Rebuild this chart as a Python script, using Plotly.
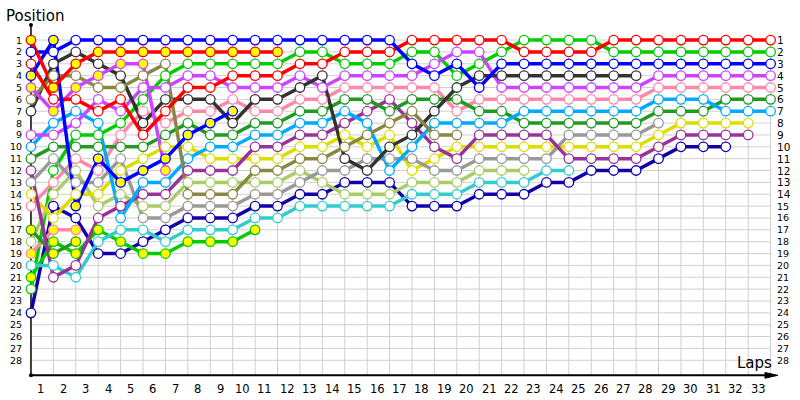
import plotly.graph_objects as go

# ---------------- data ----------------
laps = list(range(0, 34))          # lap 0 = grid
lap_labels = [str(i) for i in range(1, 34)]
position_labels = [str(i) for i in range(1, 29)]

pos_red = [3, 6, 6, 7, 6, 9, 7, 5, 5, 4, 4, 4, 3, 3, 2, 2, 2, 1, 1, 1, 1, 1, 2, 2, 2, 2, 1, 1, 1, 1, 1, 1, 1, 1]
pos_red_y = [1, 5, 3, 2, 2, 2, 2, 2, 2, 2, 2, 2]
pos_blue = [2, 2, 1, 1, 1, 1, 1, 1, 1, 1, 1, 1, 1, 1, 1, 1, 1, 3, 4, 3, 5, 3, 3, 3, 3, 3, 3, 3, 3, 3, 3, 3, 3, 3]
pos_blue_y = [4, 1, 15, 11, 13, 12, 11, 9, 8, 7]
pos_green = [22, 12, 9, 9, 8, 6, 4, 3, 3, 3, 3, 3, 2, 2, 3, 3, 3, 2, 2, 4, 3, 2, 1, 1, 1, 1, 2, 2, 2, 2, 2, 2, 2, 2]
pos_green_y = [21, 18, 19, 17, 18, 19, 19, 18, 18, 18, 17]
pos_violet = [9, 9, 8, 6, 7, 5, 5, 4, 4, 5, 5, 5, 4, 5, 4, 4, 4, 4, 3, 2, 2, 5, 5, 5, 5, 5, 5, 5, 4, 4, 4, 4, 4, 4]
pos_violet_y = [5, 7, 5, 4, 3, 3, 12]
pos_pink = [15, 13, 11, 12, 9, 7, 8, 7, 7, 6, 7, 7, 6, 6, 5, 5, 5, 5, 5, 7, 6, 6, 6, 6, 6, 6, 6, 6, 5, 5, 5, 5, 5, 5]
pos_pink_y = [19, 17, 17]
pos_dkgreen = [11, 10, 10, 10, 10, 10, 9, 8, 9, 9, 8, 8, 7, 7, 6, 6, 7, 6, 6, 6, 7, 7, 8, 8, 8, 8, 8, 8, 7, 7, 7, 6, 6, 6]
pos_dkgreen_y = [17, 19, 18]
pos_ltblue = [10, 8, 7, 8, 16, 13, 13, 11, 10, 10, 9, 9, 8, 8, 7, 8, 12, 10, 8, 8, 8, 8, 7, 7, 7, 7, 7, 7, 6, 6, 6, 7, 7, 7]
pos_black = [7, 3, 2, 3, 4, 8, 6, 6, 6, 8, 6, 6, 5, 4, 11, 12, 10, 9, 7, 5, 4, 4, 4, 4, 4, 4, 4, 4]
pos_olive = [6, 4, 4, 5, 5, 4, 3, 14, 14, 14, 12, 12, 11, 11, 10, 9, 8, 7, 9, 9]
pos_yellow = [14, 16, 14, 14, 12, 11, 10, 10, 11, 11, 11, 11, 10, 10, 9, 10, 9, 12, 11, 10, 10, 10, 10, 10, 10, 10, 10, 10, 9, 8, 8, 8, 8]
pos_dkpurple = [12, 21, 20, 16, 15, 14, 14, 12, 12, 12, 10, 10, 9, 9, 8, 7, 6, 8, 10, 11, 9, 9, 9, 9, 11, 11, 11, 11, 10, 9, 9, 9, 9]
pos_gray = [13, 11, 13, 13, 11, 16, 16, 15, 15, 15, 14, 14, 13, 12, 12, 11, 11, 11, 12, 12, 11, 11, 11, 11, 9, 9, 9, 9, 8]
pos_ltgreen = [18, 14, 12, 15, 14, 15, 15, 13, 13, 13, 13, 13, 12, 13, 14, 14, 14, 13, 13, 13, 12, 12, 12]
pos_cyan = [20, 20, 21, 18, 17, 17, 18, 17, 17, 17, 16, 16, 15, 15, 15, 15, 15, 14, 14, 14, 13, 13, 13, 12, 12]
pos_dkblue = [24, 15, 16, 19, 19, 18, 17, 16, 16, 16, 15, 15, 14, 14, 13, 13, 13, 15, 15, 15, 14, 14, 14, 13, 13, 12, 12, 12, 11, 10, 10, 10]

# (positions, line colour, yellow-filled markers) - drawing order
drivers = [
    (pos_dkblue, "#1100aa", False),
    (pos_green, "#00cc00", False),
    (pos_green_y, "#00cc00", True),
    (pos_cyan, "#33cccc", False),
    (pos_pink_y, "#ff88aa", True),
    (pos_ltgreen, "#aacc66", False),
    (pos_dkgreen_y, "#229922", True),
    (pos_pink, "#ff88aa", False),
    (pos_yellow, "#dddd00", False),
    (pos_gray, "#999999", False),
    (pos_dkpurple, "#993399", False),
    (pos_dkgreen, "#229922", False),
    (pos_ltblue, "#00aaff", False),
    (pos_violet, "#cc44ff", False),
    (pos_black, "#333333", False),
    (pos_olive, "#888844", False),
    (pos_violet_y, "#cc44ff", True),
    (pos_red, "#ff0000", False),
    (pos_blue, "#0000ff", False),
    (pos_blue_y, "#0000ff", True),
    (pos_red_y, "#ff0000", True),
]

FONT = "DejaVu Sans"
Y_TOP, Y_AXIS, Y_BOT = -0.27, 29.27, 30.0
X_LEFT, X_RIGHT = -0.4, 34.0

fig = go.Figure()

# lines first
for pos, col, yel in drivers:
    fig.add_trace(go.Scatter(
        x=laps[:len(pos)], y=pos, mode="lines",
        line=dict(color=col, width=3.5), hoverinfo="skip", showlegend=False))
# markers on top
for pos, col, yel in drivers:
    fig.add_trace(go.Scatter(
        x=laps[:len(pos)], y=pos, mode="markers",
        marker=dict(symbol="circle", size=9.5,
                    color="#ffff00" if yel else "#ffffff",
                    line=dict(color=col, width=1.3)),
        hoverinfo="skip", showlegend=False))

# axis end dots
fig.add_trace(go.Scatter(x=[0, 0], y=[Y_TOP, Y_AXIS], mode="markers",
                         marker=dict(color="black", size=4), cliponaxis=False,
                         hoverinfo="skip", showlegend=False))

shapes = []
for p in range(1, 29):
    shapes.append(dict(type="line", xref="x", yref="y", x0=0, x1=33, y0=p, y1=p,
                       line=dict(color="#cfcfcf", width=1), layer="below"))
for k in range(1, 34):
    shapes.append(dict(type="line", xref="x", yref="y", x0=k, x1=k, y0=0.65, y1=Y_AXIS,
                       line=dict(color="#cfcfcf", width=1), layer="below"))
# axes
shapes.append(dict(type="line", xref="x", yref="y", x0=0, x1=0, y0=Y_TOP, y1=Y_AXIS,
                   line=dict(color="black", width=1.5), layer="below"))
shapes.append(dict(type="line", xref="x", yref="y", x0=0, x1=32.9, y0=Y_AXIS, y1=Y_AXIS,
                   line=dict(color="black", width=2), layer="below"))
shapes.append(dict(type="path", xref="x", yref="y",
                   path=f"M 32.75 {Y_AXIS-0.24} L 33.32 {Y_AXIS} L 32.75 {Y_AXIS+0.24} Z",
                   fillcolor="black", line=dict(color="black", width=1)))

ann = []
for i, t in enumerate(position_labels, start=1):
    ann.append(dict(x=0, y=i, xref="x", yref="y", text=t, showarrow=False,
                    xanchor="right", yanchor="middle", xshift=-8, borderpad=0,
                    font=dict(family=FONT, size=9.5, color="black")))
    ann.append(dict(x=33, y=i, xref="x", yref="y", text=t, showarrow=False,
                    xanchor="left", yanchor="middle", xshift=5, borderpad=0,
                    font=dict(family=FONT, size=10.5 if i <= 14 else 9.5, color="black")))
for i, t in enumerate(lap_labels, start=1):
    ann.append(dict(x=i - 0.56, y=Y_AXIS, xref="x", yref="y", text=t, showarrow=False,
                    xanchor="center", yanchor="middle", yshift=-14,
                    font=dict(family=FONT, size=11.5, color="black")))
ann.append(dict(x=0, y=Y_TOP, xref="x", yref="y", text="Position", showarrow=False,
                xanchor="left", yanchor="bottom", xshift=-27, yshift=-2,
                font=dict(family=FONT, size=15, color="black")))
ann.append(dict(x=33.15, y=Y_AXIS, xref="x", yref="y", text="Laps", showarrow=False,
                xanchor="right", yanchor="bottom", yshift=1,
                font=dict(family=FONT, size=15, color="black")))

fig.update_layout(
    width=800, height=400,
    margin=dict(l=22, r=7, t=25, b=16),
    paper_bgcolor="white", plot_bgcolor="white",
    shapes=shapes, annotations=ann, showlegend=False,
    xaxis=dict(range=[X_LEFT, X_RIGHT], visible=False, fixedrange=True),
    yaxis=dict(range=[Y_BOT, Y_TOP], visible=False, fixedrange=True),
)

fig.write_html("out.html", config={"displayModeBar": False},
               post_script="document.body.style.margin='0px';document.body.style.overflow='hidden';")
